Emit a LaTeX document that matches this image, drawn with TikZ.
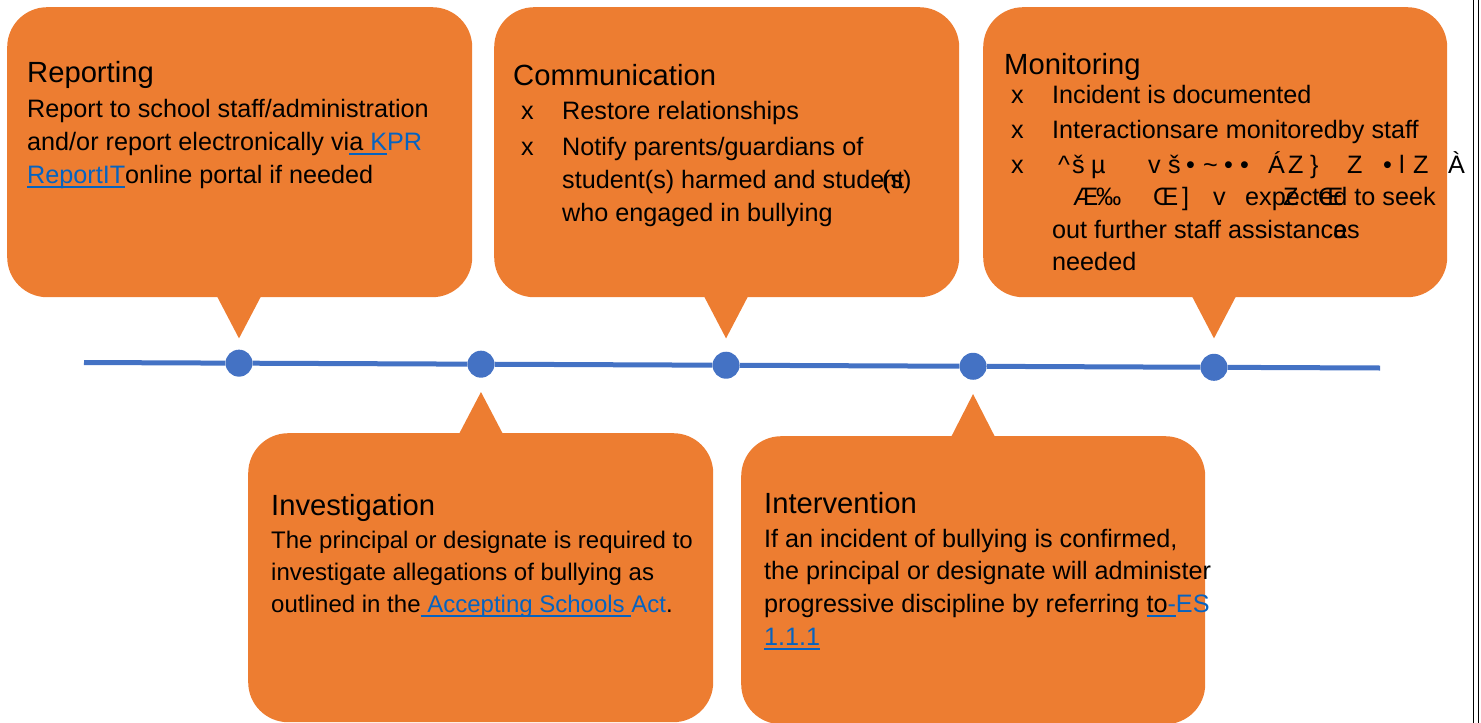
\documentclass[tikz,border=0pt]{standalone}
\usepackage{fontspec}
\setmainfont{Liberation Sans}
\usetikzlibrary{calc}
\definecolor{bubble}{HTML}{ED7D31}
\definecolor{tline}{HTML}{4472C4}
\definecolor{link}{HTML}{0563C1}
\newcommand{\ttl}{\fontsize{29.2}{35}\selectfont}
\newcommand{\bdy}{\fontsize{25.2}{33}\selectfont}
\newcommand{\bdyi}{\fontsize{24}{32}\selectfont}
\newcommand{\lk}[1]{\textcolor{link}{#1}}
\newlength{\ulw}
\newcommand{\bul}[1]{\settowidth{\ulw}{#1}\rlap{\textcolor{link}{\rule[-5pt]{\ulw}{1.8pt}}}#1}
\begin{document}
\begin{tikzpicture}[x=1pt,y=-1pt,
  bub/.style={rectangle, rounded corners=40pt, fill=bubble, draw=none, inner sep=0pt, anchor=north west},
  tx/.style={anchor=base west, inner sep=0pt, font=\bdy},
  txi/.style={anchor=base west, inner sep=0pt, font=\bdyi},
  ti/.style={anchor=base west, inner sep=0pt, font=\ttl},
  dotn/.style={circle, fill=tline, minimum size=27pt, inner sep=0pt},
  tl/.style={draw=tline, line width=5pt},
  edge/.style={draw=black, line width=1.6pt}]
\useasboundingbox (0,0) rectangle (1481,723);

% bubbles
\node[bub, minimum width=465pt, minimum height=290pt] (b1) at (7,7) {};
\node[bub, minimum width=465pt, minimum height=290pt] (b2) at (494,7) {};
\node[bub, minimum width=464pt, minimum height=290pt] (b3) at (983,7) {};
\node[bub, minimum width=465pt, minimum height=289pt] (b4) at (248,433) {};
\node[bub, minimum width=464pt, minimum height=288pt] (b5) at (741,436) {};

% timeline
\coordinate (L1) at (84,362.5);
\coordinate (L2) at (1380,368);
\node[dotn] (d1) at ($(L1)!0.1196!(L2)$) {};
\node[dotn] (d2) at ($(L1)!0.3063!(L2)$) {};
\node[dotn] (d3) at ($(L1)!0.4954!(L2)$) {};
\node[dotn] (d4) at ($(L1)!0.6860!(L2)$) {};
\node[dotn] (d5) at ($(L1)!0.8719!(L2)$) {};
\draw[tl] (L1) -- (d1) -- (d2) -- (d3) -- (d4) -- (d5) -- (L2);

% tails
\fill[bubble] ($(b1.south -| d1)+(-23,-3)$) -- ($(b1.south -| d1)+(23,-3)$) -- ($(b1.south -| d1)+(0,41)$) -- cycle;
\fill[bubble] ($(b2.south -| d3)+(-23,-3)$) -- ($(b2.south -| d3)+(23,-3)$) -- ($(b2.south -| d3)+(0,41)$) -- cycle;
\fill[bubble] ($(b3.south -| d5)+(-23,-3)$) -- ($(b3.south -| d5)+(23,-3)$) -- ($(b3.south -| d5)+(0,41)$) -- cycle;
\fill[bubble] ($(b4.north -| d2)+(-23,3)$) -- ($(b4.north -| d2)+(23,3)$) -- ($(b4.north -| d2)+(0,-41)$) -- cycle;
\fill[bubble] ($(b5.north -| d4)+(-23,3)$) -- ($(b5.north -| d4)+(23,3)$) -- ($(b5.north -| d4)+(0,-42)$) -- cycle;

% page edge double line
\draw[edge] (1473.5,0) -- (1473.5,723);
\draw[edge] (1478.5,0) -- (1478.5,723);

% Reporting
\node[ti] (r0) at (27,82) {Reporting};
\node[tx] (r1) at (27,117) {Report to school staff/administration};
\node[tx] (r2) at (27,150) {and/or report electronically vi\bul{a\ }\lk{\bul{K}PR}};
\node[tx] (r3) at (27,183) {\lk{\bul{ReportIT}}online portal if needed};

% Communication
\node[ti] (c0) at (513,85) {Communication};
\node[tx] (cx1) at (521,119) {x};
\node[tx] (c1) at (562,119) {Restore relationships};
\node[tx] (cx2) at (521,155) {x};
\node[tx] (c2) at (562,155) {Notify parents/guardians of};
\node[tx] (c3) at (562,188) {student(s) harmed and stude};
\node[tx] (c3a) at (882,188) {(s)};
\node[tx] (c3b) at (883,188) {nt};
\node[tx] (c4) at (562,221) {who engaged in bullying};

% Monitoring
\node[ti] (m0) at (1004,74) {Monitoring};
\node[tx] (mx1) at (1011,103) {x};
\node[tx] (m1) at (1052,103) {Incident is documented};
\node[tx] (mx2) at (1011,138) {x};
\node[tx] (m2) at (1052,138) {Interactionsare monitoredby staff};
\node[tx] (mx3) at (1011,173) {x};
\foreach \x/\g [count=\i] in {1058/\textasciicircum, 1072/š, 1091/µ, 1148/v, 1168/š, 1186/•, 1203/\textasciitilde, 1224/•, 1240/•, 1268/Á, 1288/Z, 1310/\}, 1347/Z, 1383/•, 1399/l, 1413/Z, 1448/À}
  \node[tx] (ga\i) at (\x,173) {\g};
\foreach \x/\g [count=\i] in {1073/Æ, 1096/‰, 1153/Œ, 1182/], 1213/v, 1283/Z, 1318/Œ}
  \node[tx] (gb\i) at (\x,205) {\g};
\node[tx] (m4) at (1245,205) {expected to seek};
\node[tx] (m5) at (1052,238) {out further staff assistance};
\node[tx] (m5a) at (1333,238) {as};
\node[tx] (m6) at (1052,270) {needed};

% Investigation
\node[ti] (i0) at (271,515) {Investigation};
\node[txi] (i1) at (271,548) {The principal or designate is required to};
\node[txi] (i2) at (271,580) {investigate allegations of bullying as};
\node[txi] (i3) at (271,612) {outlined in the\bul{\ }\lk{\bul{Accepting Schools\ }Act}.};

% Intervention
\node[ti] (v0) at (764,513) {Intervention};
\node[tx] (v1) at (764,547) {If an incident of bullying is confirmed,};
\node[tx] (v2) at (764,579) {the principal or designate will administer};
\node[tx] (v3) at (764,612) {progressive discipline by referring \bul{to}\lk{\bul{-}ES}};
\node[tx] (v4) at (764,645) {\lk{\bul{1.1.1}}};
\end{tikzpicture}
\end{document}
